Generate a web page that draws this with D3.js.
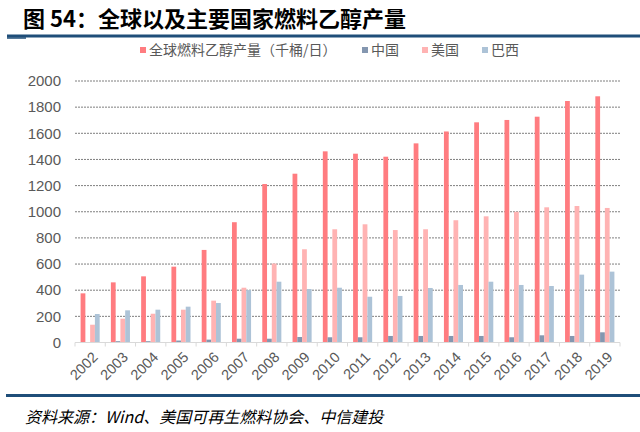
<!DOCTYPE html>
<html>
<head>
<meta charset="utf-8">
<script src="https://cdn.jsdelivr.net/npm/d3@7"></script>
<style>
  body { margin: 0; background: #fff; }
  svg text { font-family: "Liberation Sans", "Noto Sans CJK SC", sans-serif; }
</style>
</head>
<body>
<div id="content"></div>
<script>
const years = ["2002", "2003", "2004", "2005", "2006", "2007", "2008", "2009", "2010",
               "2011", "2012", "2013", "2014", "2015", "2016", "2017", "2018", "2019"];
const series_names = ["全球燃料乙醇产量（千桶/日）", "中国", "美国", "巴西"];
const world = [376, 460, 506, 580, 708, 920, 1212, 1291, 1462, 1444, 1421, 1523, 1614, 1684, 1702, 1727, 1847, 1883];
const china = [3, 10, 10, 15, 22, 29, 29, 42, 40, 40, 50, 50, 50, 50, 40, 55, 50, 78];
const usa = [136, 182, 220, 251, 320, 419, 604, 713, 866, 904, 860, 866, 935, 965, 1000, 1034, 1044, 1029];
const brazil = [218, 246, 251, 274, 302, 401, 465, 409, 419, 350, 356, 417, 440, 465, 440, 432, 519, 542];
const y_ticks = [0, 200, 400, 600, 800, 1000, 1200, 1400, 1600, 1800, 2000];

const colors = ["#FF7C80", "#8497B0", "#FFB3B3", "#ADC3D7"];
const all_series = [world, china, usa, brazil];

const width = 640, height = 432;
const margin = { left: 75, right: 20, top: 81, bottom: 90 };

const svg = d3.select("#content")
    .append("svg")
    .attr("width", width)
    .attr("height", height);

// title + header line
svg.append("text")
    .attr("x", 23)
    .attr("y", 27)
    .style("font-family", "'Noto Sans CJK SC', sans-serif")
    .style("font-size", "22px")
    .style("font-weight", "bold")
    .style("fill", "#000")
    .text("图 54：全球以及主要国家燃料乙醇产量");

svg.append("line")
    .attr("x1", 7).attr("x2", 640)
    .attr("y1", 36).attr("y2", 36)
    .attr("stroke", "#1F4E79")
    .attr("stroke-width", 3);
svg.append("line")
    .attr("x1", 7).attr("x2", 26)
    .attr("y1", 38).attr("y2", 38)
    .attr("stroke", "#1F4E79")
    .attr("stroke-width", 1.5);

// legend
const legend_x = [140, 362, 422, 482];
const legend = svg.selectAll(".legend")
    .data(series_names)
    .enter()
    .append("g")
    .attr("transform", (d, i) => "translate(" + legend_x[i] + ",50)");
legend.append("rect")
    .attr("x", 0).attr("y", -3)
    .attr("width", 6).attr("height", 6)
    .attr("fill", (d, i) => colors[i]);
legend.append("text")
    .attr("x", 9)
    .attr("y", 0)
    .attr("dy", "0.35em")
    .style("font-family", "'Noto Sans CJK SC', sans-serif")
    .style("font-size", "14px")
    .style("fill", "#595959")
    .text(d => d);

const plot_w = width - margin.left - margin.right;
const plot_bottom = 342.5;

const x0 = d3.scaleBand()
    .domain(years)
    .range([margin.left, margin.left + plot_w])
    .paddingInner(0.37)
    .paddingOuter(0.185);

const x1 = d3.scaleBand()
    .domain(d3.range(4))
    .range([0, x0.bandwidth()]);

const y = d3.scaleLinear()
    .domain([0, 2000])
    .range([plot_bottom, margin.top]);

// gridlines
svg.append("g")
    .selectAll("line")
    .data(y_ticks.filter(d => d > 0))
    .enter()
    .append("line")
    .attr("x1", margin.left)
    .attr("x2", margin.left + plot_w)
    .attr("y1", d => y(d))
    .attr("y2", d => y(d))
    .attr("stroke", "#7f7f7f")
    .attr("stroke-width", 1)
    .attr("stroke-dasharray", "2,1");

// y labels
svg.append("g")
    .selectAll("text")
    .data(y_ticks)
    .enter()
    .append("text")
    .attr("x", 61)
    .attr("y", d => y(d))
    .attr("dy", "0.35em")
    .attr("text-anchor", "end")
    .style("font-size", "15px")
    .style("fill", "#595959")
    .text(d => d);

// bars
const groups = svg.append("g")
    .selectAll("g")
    .data(years)
    .enter()
    .append("g")
    .attr("transform", d => "translate(" + x0(d) + ",0)");

groups.selectAll("rect")
    .data((d, i) => all_series.map((s, k) => ({ k: k, v: s[i] })))
    .enter()
    .append("rect")
    .attr("x", d => x1(d.k))
    .attr("width", x1.bandwidth())
    .attr("y", d => y(d.v))
    .attr("height", d => plot_bottom - y(d.v))
    .attr("fill", d => colors[d.k]);

// x axis
const x_axis = svg.append("g")
    .attr("transform", "translate(0," + plot_bottom + ")");

x_axis.append("line")
    .attr("x1", margin.left)
    .attr("x2", margin.left + plot_w)
    .attr("stroke", "#d9d9d9");

const step = x0.step();
x_axis.selectAll(".tick")
    .data(d3.range(years.length + 1))
    .enter()
    .append("line")
    .attr("x1", i => margin.left + i * step)
    .attr("x2", i => margin.left + i * step)
    .attr("y1", 0)
    .attr("y2", 4)
    .attr("stroke", "#d9d9d9");

x_axis.selectAll(".label")
    .data(years)
    .enter()
    .append("text")
    .attr("text-anchor", "end")
    .attr("transform", d => "translate(" + (x0(d) + x0.bandwidth() / 2 + 5) + ",12) rotate(-45)")
    .attr("dy", "0.35em")
    .style("font-size", "14.5px")
    .style("fill", "#595959")
    .text(d => d);

// footer
svg.append("line")
    .attr("x1", 6).attr("x2", 640)
    .attr("y1", 395.5).attr("y2", 395.5)
    .attr("stroke", "#1F4E79")
    .attr("stroke-width", 3);

svg.append("text")
    .attr("x", 25)
    .attr("y", 423)
    .style("font-family", "'Noto Sans CJK SC', sans-serif")
    .style("font-size", "16px")
    .style("font-style", "italic")
    .style("fill", "#000")
    .text("资料来源：Wind、美国可再生燃料协会、中信建投");
</script>
</body>
</html>
